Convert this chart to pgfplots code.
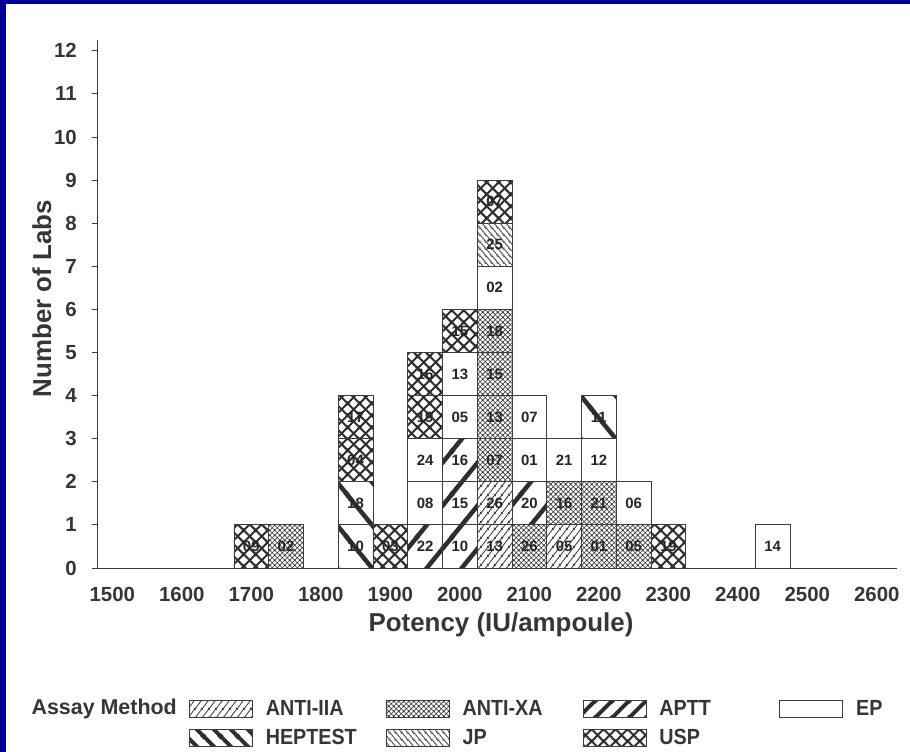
\documentclass[border=0pt]{standalone}
\usepackage{fontspec}
\setmainfont{Liberation Sans}
\newfontfamily\narrowsans{Liberation Sans}[FakeStretch=0.9]
\usepackage{pgfplots}
\pgfplotsset{compat=1.18}
\usepackage{pgfplotstable}
\usetikzlibrary{patterns}

\definecolor{frameblue}{HTML}{000099}
\definecolor{ink}{HTML}{363636}
\definecolor{patcol}{HTML}{2E2E2E}
\definecolor{boxline}{HTML}{3C3C3C}

% hatching: "/" and "\" lines on a w x h tile
\newcommand\fwdlines[3]{%
  \pgfsetlinewidth{#3}%
  \pgfpathmoveto{\pgfpoint{-#1}{-#2}}\pgfpathlineto{\pgfpoint{2*#1}{2*#2}}%
  \pgfpathmoveto{\pgfpoint{-#1}{0pt}}\pgfpathlineto{\pgfpoint{#1}{2*#2}}%
  \pgfpathmoveto{\pgfpoint{0pt}{-#2}}\pgfpathlineto{\pgfpoint{2*#1}{#2}}%
  \pgfusepath{stroke}}
\newcommand\bcklines[3]{%
  \pgfsetlinewidth{#3}%
  \pgfpathmoveto{\pgfpoint{-#1}{2*#2}}\pgfpathlineto{\pgfpoint{2*#1}{-#2}}%
  \pgfpathmoveto{\pgfpoint{-#1}{#2}}\pgfpathlineto{\pgfpoint{#1}{-#2}}%
  \pgfpathmoveto{\pgfpoint{0pt}{2*#2}}\pgfpathlineto{\pgfpoint{2*#1}{0pt}}%
  \pgfusepath{stroke}}
\newcommand\newpat[4]{% name, w, h, code
  \pgfdeclarepatternformonly{#1}{\pgfpointorigin}{\pgfpoint{#2}{#3}}{\pgfpoint{#2}{#3}}{#4}}

\newpat{iia}{6.5bp}{8.5bp}{\fwdlines{6.5bp}{8.5bp}{0.8bp}}
\newpat{xa}{5.2bp}{5.2bp}{\fwdlines{5.2bp}{5.2bp}{0.7bp}\bcklines{5.2bp}{5.2bp}{0.7bp}}
\newpat{aptt}{34.75bp}{43.1bp}{\fwdlines{34.75bp}{43.1bp}{4.5bp}}
\newpat{hep}{34.75bp}{43.1bp}{\bcklines{34.75bp}{43.1bp}{4.5bp}}
\newpat{jp}{6bp}{7bp}{\bcklines{6bp}{7bp}{0.8bp}}
\newpat{usp}{11.6bp}{11.6bp}{\fwdlines{11.6bp}{11.6bp}{2bp}\bcklines{11.6bp}{11.6bp}{2bp}}
\newpat{apttleg}{17bp}{17bp}{\fwdlines{17bp}{17bp}{4bp}}
\newpat{hepleg}{17bp}{17bp}{\bcklines{17bp}{17bp}{4bp}}

% one lab = one box, 50 IU wide and 1 lab high
\newcommand\labbox[1]{%
  \pgfsetlinewidth{0.8bp}\pgfsetstrokecolor{boxline}#1%
  \pgfpathrectangle{\pgfpoint{-17.375bp}{-21.55bp}}{\pgfpoint{34.75bp}{43.1bp}}%
  \pgfusepathqfillstroke}
\pgfdeclareplotmark{iiabox}{\labbox{\pgfsetfillpattern{iia}{patcol}}}
\pgfdeclareplotmark{xabox}{\labbox{\pgfsetfillpattern{xa}{patcol}}}
\pgfdeclareplotmark{apttbox}{\labbox{\pgfsetfillpattern{aptt}{patcol}}}
\pgfdeclareplotmark{epbox}{\labbox{\pgfsetfillcolor{white}}}
\pgfdeclareplotmark{hepbox}{\labbox{\pgfsetfillpattern{hep}{patcol}}}
\pgfdeclareplotmark{jpbox}{\labbox{\pgfsetfillpattern{jp}{patcol}}}
\pgfdeclareplotmark{uspbox}{\labbox{\pgfsetfillpattern{usp}{patcol}}}

\newcommand\legpatch[1]{\draw[line width=0.8bp, draw=boxline, #1] (0bp,-8.5bp) rectangle (63bp,8.5bp);}
\newcommand\legtext[1]{\makebox[120bp][l]{#1}}

% x = potency bin centre, y = middle of the lab's box, lab = lab code
\pgfplotstableread{
x    y    lab
2050 0.5  13
2050 1.5  26
2150 0.5  05
}\antiiia
\pgfplotstableread{
x    y    lab
1750 0.5  02
2050 2.5  07
2050 3.5  13
2050 4.5  15
2050 5.5  18
2100 0.5  26
2150 1.5  16
2200 0.5  01
2200 1.5  21
2250 0.5  05
}\antixa
\pgfplotstableread{
x    y    lab
1950 0.5  22
2000 0.5  10
2000 1.5  15
2000 2.5  16
2100 1.5  20
}\aptt
\pgfplotstableread{
x    y    lab
1950 1.5  08
1950 2.5  24
2000 3.5  05
2000 4.5  13
2050 6.5  02
2100 2.5  01
2100 3.5  07
2150 2.5  21
2200 2.5  12
2250 1.5  06
2450 0.5  14
}\ep
\pgfplotstableread{
x    y    lab
1850 0.5  10
1850 1.5  18
2200 3.5  11
}\heptest
\pgfplotstableread{
x    y    lab
2050 7.5  25
}\jp
\pgfplotstableread{
x    y    lab
1700 0.5  09
1850 2.5  04
1850 3.5  17
1900 0.5  03
1950 3.5  19
1950 4.5  16
2000 5.5  15
2050 8.5  07
2300 0.5  19
}\usp

\begin{document}
\begin{tikzpicture}
\fill[frameblue] (0bp,0bp) rectangle (910bp,752bp);
\fill[white] (6bp,0bp) rectangle (910bp,748bp);
\begin{axis}[
  at={(97bp,184bp)}, anchor=south west,
  scale only axis, width=800bp, height=528bp,
  xmin=1478, xmax=2629, ymin=0, ymax=12.25,
  axis lines=left,
  axis line style={-, draw=boxline, line width=0.9bp},
  xtick={1500,1600,...,2600}, ytick={0,1,...,12},
  scaled x ticks=false,
  tick align=outside, major tick length=5bp,
  xtick style={draw=none},
  ytick style={draw=boxline, line width=0.8bp},
  /pgf/number format/assume math mode=true,
  /pgf/number format/set thousands separator={},
  ticklabel style={font=\bfseries\fontsize{20.5}{20.5}\selectfont, text=ink, inner sep=0pt},
  yticklabel style={xshift=-15bp},
  xticklabel style={yshift=-14bp},
  xlabel={Potency (IU/ampoule)},
  ylabel={Number of Labs},
  label style={font=\bfseries\fontsize{26}{26}\selectfont, text=ink},
  xlabel style={at={(axis description cs:0.505,-0.121)}, anchor=base},
  ylabel style={at={(axis description cs:-0.069,0.51)}, anchor=center},
  only marks,
  point meta=explicit symbolic,
  nodes near coords,
  every node near coord/.append style={anchor=center, inner sep=0pt,
    font=\bfseries\fontsize{15}{15}\selectfont, text=black!85},
  legend columns=4,
  legend cell align=left,
  legend style={at={(axis description cs:0.115,-0.25)}, anchor=north west,
    draw=none, fill=none, inner sep=0pt, outer sep=0pt,
    nodes={inner sep=0pt},
    font=\narrowsans\bfseries\fontsize{22}{22}\selectfont, text=ink,
    row sep=11bp,
    /tikz/every odd column/.append style={column sep=13bp},
    /tikz/every even column/.append style={column sep=0bp}},
  clip=false,
]
\addplot[mark=iiabox, legend image code/.code={\legpatch{pattern=iia, pattern color=patcol}}]
  table[x=x, y=y, meta=lab] {\antiiia};
\addlegendentry{\legtext{ANTI-IIA}}
\addplot[mark=xabox, legend image code/.code={\legpatch{pattern=xa, pattern color=patcol}}]
  table[x=x, y=y, meta=lab] {\antixa};
\addlegendentry{\legtext{ANTI-XA}}
\addplot[mark=apttbox, legend image code/.code={\legpatch{pattern=apttleg, pattern color=patcol}}]
  table[x=x, y=y, meta=lab] {\aptt};
\addlegendentry{\legtext{APTT}}
\addplot[mark=epbox, legend image code/.code={\legpatch{fill=white}}]
  table[x=x, y=y, meta=lab] {\ep};
\addlegendentry{EP}
\addplot[mark=hepbox, legend image code/.code={\legpatch{pattern=hepleg, pattern color=patcol}}]
  table[x=x, y=y, meta=lab] {\heptest};
\addlegendentry{\legtext{HEPTEST}}
\addplot[mark=jpbox, legend image code/.code={\legpatch{pattern=jp, pattern color=patcol}}]
  table[x=x, y=y, meta=lab] {\jp};
\addlegendentry{\legtext{JP}}
\addplot[mark=uspbox, legend image code/.code={\legpatch{pattern=usp, pattern color=patcol}}]
  table[x=x, y=y, meta=lab] {\usp};
\addlegendentry{\legtext{USP}}
\end{axis}
\node[anchor=east, inner sep=0pt, text=ink,
  font=\bfseries\fontsize{21.5}{21.5}\selectfont] at (177bp,43bp) {Assay Method};
\end{tikzpicture}
\end{document}
